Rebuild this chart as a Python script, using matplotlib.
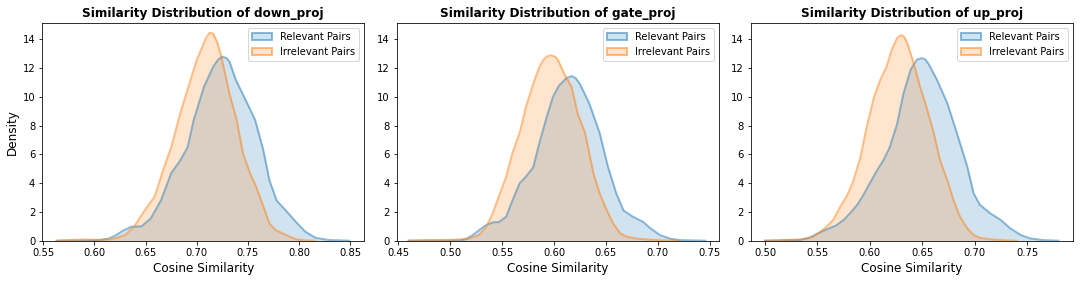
import matplotlib
matplotlib.use("Agg")
import matplotlib.pyplot as plt
from matplotlib.patches import Patch
from matplotlib.colors import to_rgba

# ---------------- data (density curves) ----------------
titles = ["Similarity Distribution of down_proj",
          "Similarity Distribution of gate_proj",
          "Similarity Distribution of up_proj"]
series_labels = ["Relevant Pairs", "Irrelevant Pairs"]

down_rel_x = [0.563, 0.59, 0.604, 0.614, 0.62, 0.628, 0.636, 0.646, 0.655, 0.665, 0.675, 0.684,
              0.691, 0.697, 0.707, 0.716, 0.721, 0.725, 0.729, 0.732, 0.738, 0.749, 0.757, 0.765,
              0.771, 0.778, 0.787, 0.797, 0.806, 0.816, 0.829, 0.849]
down_rel_y = [0.0, 0.01, 0.03, 0.15, 0.35, 0.7, 0.97, 1.0, 1.55, 2.8, 4.7, 5.6,
              6.5, 8.4, 10.7, 12.1, 12.6, 12.8, 12.7, 12.45, 11.2, 9.6, 8.4, 6.3,
              4.2, 2.8, 2.1, 1.3, 0.63, 0.2, 0.05, 0.0]
down_irr_x = [0.563, 0.575, 0.59, 0.605, 0.614, 0.622, 0.63, 0.639, 0.649, 0.659, 0.668, 0.675,
              0.684, 0.694, 0.70, 0.705, 0.709, 0.7125, 0.716, 0.72, 0.724, 0.732, 0.739, 0.745,
              0.752, 0.758, 0.765, 0.771, 0.777, 0.787, 0.797, 0.806, 0.815]
down_irr_y = [0.0, 0.05, 0.08, 0.06, 0.08, 0.2, 0.4, 1.0, 2.1, 3.1, 5.1, 6.5,
              8.9, 11.2, 12.6, 13.4, 14.1, 14.46, 14.4, 13.8, 12.8, 10.2, 8.4, 6.1,
              4.7, 3.75, 2.4, 1.2, 0.74, 0.4, 0.1, 0.02, 0.0]

gate_rel_x = [0.46, 0.509, 0.515, 0.522, 0.528, 0.535, 0.541, 0.547, 0.554, 0.56, 0.567, 0.573,
              0.58, 0.586, 0.593, 0.599, 0.605, 0.612, 0.617, 0.621, 0.625, 0.634, 0.644, 0.652,
              0.66, 0.667, 0.676, 0.686, 0.693, 0.702, 0.712, 0.722, 0.746]
gate_rel_y = [0.0, 0.02, 0.1, 0.4, 0.74, 1.1, 1.27, 1.3, 1.67, 2.8, 4.0, 4.45,
              5.1, 6.8, 8.6, 10.0, 10.8, 11.3, 11.45, 11.3, 10.9, 9.55, 7.5, 5.15,
              3.3, 2.1, 1.67, 1.3, 0.86, 0.4, 0.14, 0.04, 0.0]
gate_irr_x = [0.46, 0.48, 0.50, 0.518, 0.528, 0.535, 0.541, 0.547, 0.554, 0.56, 0.567, 0.573,
              0.58, 0.586, 0.59, 0.593, 0.597, 0.601, 0.604, 0.61, 0.617, 0.623, 0.63, 0.638,
              0.644, 0.651, 0.657, 0.664, 0.67, 0.68, 0.693, 0.705, 0.72]
gate_irr_y = [0.0, 0.05, 0.05, 0.14, 0.4, 1.0, 1.9, 3.1, 4.45, 6.1, 7.5, 9.3,
              10.9, 12.1, 12.6, 12.8, 12.9, 12.8, 12.55, 11.6, 10.7, 8.8, 7.5, 4.7,
              3.3, 2.1, 1.2, 0.5, 0.28, 0.14, 0.07, 0.02, 0.0]

up_rel_x = [0.50, 0.533, 0.543, 0.549, 0.556, 0.562, 0.568, 0.575, 0.581, 0.588, 0.594, 0.60,
            0.607, 0.613, 0.619, 0.626, 0.632, 0.639, 0.645, 0.65, 0.653, 0.656, 0.664, 0.674,
            0.683, 0.693, 0.699, 0.705, 0.715, 0.725, 0.734, 0.744, 0.753, 0.766, 0.78]
up_rel_y = [0.0, 0.05, 0.23, 0.46, 0.7, 0.88, 1.07, 1.44, 1.9, 2.5, 3.2, 4.0,
            4.9, 5.6, 6.5, 8.1, 10.2, 11.9, 12.6, 12.7, 12.6, 12.3, 11.2, 9.55,
            7.5, 5.15, 3.3, 2.5, 1.9, 1.44, 0.86, 0.4, 0.16, 0.04, 0.0]
up_irr_x = [0.50, 0.52, 0.537, 0.546, 0.553, 0.559, 0.565, 0.572, 0.578, 0.584, 0.591, 0.597,
            0.604, 0.61, 0.616, 0.621, 0.626, 0.63, 0.633, 0.636, 0.642, 0.648, 0.654, 0.661,
            0.667, 0.674, 0.68, 0.686, 0.693, 0.699, 0.705, 0.715, 0.728, 0.74]
up_irr_y = [0.0, 0.05, 0.1, 0.28, 0.63, 1.0, 1.44, 2.4, 3.1, 4.1, 5.8, 7.9,
            10.0, 11.2, 12.1, 13.3, 14.1, 14.3, 14.15, 13.7, 12.3, 10.7, 9.3, 7.5,
            5.6, 4.2, 2.8, 1.67, 0.86, 0.4, 0.2, 0.1, 0.03, 0.0]

panels = [
    ((down_rel_x, down_rel_y), (down_irr_x, down_irr_y)),
    ((gate_rel_x, gate_rel_y), (gate_irr_x, gate_irr_y)),
    ((up_rel_x, up_rel_y), (up_irr_x, up_irr_y)),
]
xticks = [
    [0.55, 0.60, 0.65, 0.70, 0.75, 0.80, 0.85],
    [0.45, 0.50, 0.55, 0.60, 0.65, 0.70, 0.75],
    [0.50, 0.55, 0.60, 0.65, 0.70, 0.75],
]
yticks = [0, 2, 4, 6, 8, 10, 12, 14]

# ---------------- layout / style ----------------
xlims = [(0.549, 0.8637), (0.4485, 0.7587), (0.4863, 0.7936)]
ylim = (0, 15.16)
colors = ["#1f77b4", "#ff7f0e"]
fill_alpha = 0.2
line_alpha = 0.5

fig = plt.figure(figsize=(15, 281 / 72), dpi=72)
lefts = [42.3 / 1080, 396.7 / 1080, 750.7 / 1080]
width = 322.0 / 1080
bottom = (281 - 240.7) / 281
height = (240.7 - 22.7) / 281

for i, (curves, title) in enumerate(zip(panels, titles)):
    ax = fig.add_axes([lefts[i], bottom, width, height])
    for (xs, ys), c in zip(curves, colors):
        ax.fill_between(xs, ys, 0, color=c, alpha=fill_alpha, linewidth=0)
        ax.plot(xs, ys, color=c, alpha=line_alpha, linewidth=2, solid_joinstyle="round")
    ax.set_xlim(*xlims[i])
    ax.set_ylim(*ylim)
    ax.set_xticks(xticks[i])
    ax.set_xticklabels([f"{t:.2f}" for t in xticks[i]])
    ax.set_yticks(yticks)
    ax.tick_params(labelsize=10)
    ax.set_title(title, fontsize=12, fontweight="bold")
    ax.set_xlabel("Cosine Similarity", fontsize=12)
    if i == 0:
        ax.set_ylabel("Density", fontsize=12)
    handles = [Patch(facecolor=to_rgba(c, fill_alpha), edgecolor=to_rgba(c, line_alpha),
                     linewidth=2, label=l) for c, l in zip(colors, series_labels)]
    ax.legend(handles=handles, loc="upper right", fontsize=10)

fig.savefig("out.png", dpi=72)
